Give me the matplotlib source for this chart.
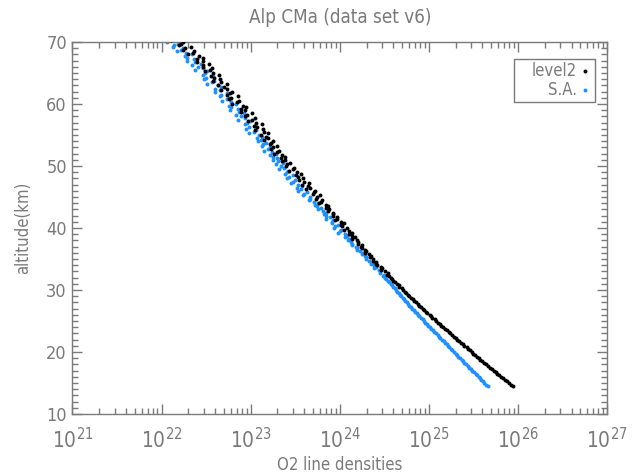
import numpy as np
import matplotlib
matplotlib.use("Agg")
import matplotlib.pyplot as plt
from matplotlib.ticker import LogLocator, MultipleLocator, NullFormatter, FixedLocator
from matplotlib.patches import Rectangle

# tangent altitudes (km), shared by both retrievals
altitude = [
    70.5, 70.25, 70.0, 69.75, 69.5, 69.25, 69.0, 68.75,
    68.5, 68.25, 68.0, 67.75, 67.5, 67.25, 67.0, 66.75,
    66.5, 66.25, 66.0, 65.75, 65.5, 65.25, 65.0, 64.75,
    64.5, 64.25, 64.0, 63.75, 63.5, 63.25, 63.0, 62.75,
    62.5, 62.25, 62.0, 61.75, 61.5, 61.25, 61.0, 60.75,
    60.5, 60.25, 60.0, 59.75, 59.5, 59.25, 59.0, 58.75,
    58.5, 58.25, 58.0, 57.75, 57.5, 57.25, 57.0, 56.75,
    56.5, 56.25, 56.0, 55.75, 55.5, 55.25, 55.0, 54.75,
    54.5, 54.25, 54.0, 53.75, 53.5, 53.25, 53.0, 52.75,
    52.5, 52.25, 52.0, 51.75, 51.5, 51.25, 51.0, 50.75,
    50.5, 50.25, 50.0, 49.75, 49.5, 49.25, 49.0, 48.75,
    48.5, 48.25, 48.0, 47.75, 47.5, 47.25, 47.0, 46.75,
    46.5, 46.25, 46.0, 45.75, 45.5, 45.25, 45.0, 44.75,
    44.5, 44.25, 44.0, 43.75, 43.5, 43.25, 43.0, 42.75,
    42.5, 42.25, 42.0, 41.75, 41.5, 41.25, 41.0, 40.75,
    40.5, 40.25, 40.0, 39.75, 39.5, 39.25, 39.0, 38.75,
    38.5, 38.25, 38.0, 37.75, 37.5, 37.25, 37.0, 36.75,
    36.5, 36.25, 36.0, 35.75, 35.5, 35.25, 35.0, 34.75,
    34.5, 34.25, 34.0, 33.75, 33.5, 33.25, 33.0, 32.75,
    32.5, 32.25, 32.0, 31.75, 31.5, 31.25, 31.0, 30.75,
    30.5, 30.25, 30.0, 29.75, 29.5, 29.25, 29.0, 28.75,
    28.5, 28.25, 28.0, 27.75, 27.5, 27.25, 27.0, 26.75,
    26.5, 26.25, 26.0, 25.75, 25.5, 25.25, 25.0, 24.75,
    24.5, 24.25, 24.0, 23.75, 23.5, 23.25, 23.0, 22.75,
    22.5, 22.25, 22.0, 21.75, 21.5, 21.25, 21.0, 20.75,
    20.5, 20.25, 20.0, 19.75, 19.5, 19.25, 19.0, 18.75,
    18.5, 18.25, 18.0, 17.75, 17.5, 17.25, 17.0, 16.75,
    16.5, 16.25, 16.0, 15.75, 15.5, 15.25, 15.0, 14.75,
    14.5,
]

# log10 of O2 line density, level2 product
level2_log = [
    22.18, 22.11, 22.24, 22.22, 22.20, 22.33, 22.26, 22.24,
    22.36, 22.35, 22.30, 22.42, 22.46, 22.40, 22.46, 22.40,
    22.53, 22.47, 22.46, 22.57, 22.54, 22.49, 22.58, 22.65,
    22.56, 22.59, 22.66, 22.58, 22.67, 22.73, 22.63, 22.70,
    22.74, 22.67, 22.79, 22.77, 22.74, 22.86, 22.78, 22.76,
    22.87, 22.85, 22.79, 22.91, 22.95, 22.89, 22.94, 22.89,
    23.01, 22.96, 22.94, 23.05, 23.02, 22.97, 23.06, 23.13,
    23.04, 23.07, 23.14, 23.05, 23.15, 23.20, 23.12, 23.17,
    23.20, 23.15, 23.25, 23.23, 23.22, 23.30, 23.25, 23.23,
    23.32, 23.30, 23.26, 23.35, 23.39, 23.34, 23.38, 23.35,
    23.44, 23.41, 23.40, 23.49, 23.47, 23.43, 23.52, 23.56,
    23.51, 23.53, 23.59, 23.54, 23.60, 23.66, 23.58, 23.64,
    23.67, 23.62, 23.72, 23.71, 23.70, 23.78, 23.74, 23.73,
    23.80, 23.79, 23.77, 23.85, 23.87, 23.85, 23.88, 23.87,
    23.93, 23.92, 23.92, 23.97, 23.97, 23.95, 24.01, 24.05,
    24.01, 24.03, 24.08, 24.05, 24.10, 24.14, 24.10, 24.14,
    24.17, 24.14, 24.19, 24.20, 24.20, 24.25, 24.24, 24.25,
    24.28, 24.29, 24.28, 24.33, 24.35, 24.34, 24.37, 24.37,
    24.41, 24.41, 24.42, 24.46, 24.47, 24.46, 24.51, 24.54,
    24.53, 24.55, 24.57, 24.59, 24.60, 24.62, 24.645, 24.66,
    24.67, 24.695, 24.71, 24.73, 24.74, 24.77, 24.78, 24.80,
    24.825, 24.83, 24.855, 24.88, 24.89, 24.91, 24.935, 24.95,
    24.965, 24.985, 25.01, 25.025, 25.04, 25.065, 25.08, 25.10,
    25.125, 25.14, 25.16, 25.18, 25.20, 25.225, 25.24, 25.26,
    25.28, 25.305, 25.32, 25.34, 25.36, 25.38, 25.40, 25.425,
    25.44, 25.46, 25.48, 25.50, 25.52, 25.545, 25.56, 25.58,
    25.60, 25.625, 25.645, 25.665, 25.685, 25.71, 25.73, 25.75,
    25.77, 25.79, 25.81, 25.83, 25.85, 25.875, 25.895, 25.92,
    25.94,
]

# log10 of O2 line density, S.A. retrieval
sa_log = [
    22.05, 22.11, 22.06, 22.19, 22.14, 22.13, 22.24, 22.22,
    22.17, 22.27, 22.34, 22.26, 22.29, 22.36, 22.28, 22.38,
    22.44, 22.34, 22.41, 22.46, 22.38, 22.51, 22.49, 22.46,
    22.58, 22.50, 22.48, 22.59, 22.57, 22.51, 22.63, 22.67,
    22.60, 22.66, 22.60, 22.73, 22.67, 22.66, 22.76, 22.74,
    22.68, 22.78, 22.84, 22.76, 22.78, 22.86, 22.77, 22.87,
    22.92, 22.83, 22.89, 22.94, 22.86, 22.99, 22.96, 22.94,
    23.05, 22.98, 22.95, 23.06, 23.04, 22.98, 23.09, 23.13,
    23.07, 23.12, 23.08, 23.17, 23.14, 23.13, 23.22, 23.20,
    23.15, 23.24, 23.28, 23.22, 23.25, 23.30, 23.25, 23.31,
    23.36, 23.29, 23.34, 23.37, 23.32, 23.42, 23.41, 23.39,
    23.47, 23.43, 23.41, 23.50, 23.48, 23.45, 23.53, 23.58,
    23.52, 23.57, 23.53, 23.63, 23.60, 23.59, 23.67, 23.67,
    23.66, 23.71, 23.76, 23.72, 23.74, 23.79, 23.76, 23.81,
    23.85, 23.82, 23.85, 23.89, 23.85, 23.92, 23.91, 23.91,
    23.98, 23.95, 23.94, 24.01, 24.00, 23.98, 24.06, 24.08,
    24.06, 24.10, 24.09, 24.13, 24.14, 24.14, 24.18, 24.19,
    24.19, 24.23, 24.26, 24.25, 24.28, 24.30, 24.30, 24.33,
    24.37, 24.35, 24.38, 24.41, 24.39, 24.44, 24.45, 24.45,
    24.50, 24.49, 24.51, 24.525, 24.54, 24.555, 24.57, 24.585,
    24.60, 24.615, 24.63, 24.645, 24.66, 24.675, 24.69, 24.705,
    24.72, 24.735, 24.75, 24.765, 24.78, 24.80, 24.815, 24.83,
    24.85, 24.865, 24.88, 24.895, 24.91, 24.93, 24.945, 24.96,
    24.98, 24.995, 25.01, 25.03, 25.045, 25.06, 25.08, 25.10,
    25.115, 25.13, 25.15, 25.165, 25.18, 25.20, 25.215, 25.23,
    25.25, 25.265, 25.28, 25.30, 25.315, 25.33, 25.35, 25.37,
    25.385, 25.40, 25.42, 25.44, 25.455, 25.47, 25.49, 25.51,
    25.525, 25.54, 25.56, 25.575, 25.59, 25.61, 25.625, 25.64,
    25.66,
]

x_ticks = [1e21, 1e22, 1e23, 1e24, 1e25, 1e26, 1e27]
x_ticklabels = ["$10^{21}$", "$10^{22}$", "$10^{23}$", "$10^{24}$",
                "$10^{25}$", "$10^{26}$", "$10^{27}$"]
y_ticks = [10, 20, 30, 40, 50, 60, 70]

GREY = "#7a7a7a"
BLUE = "#1e90ff"
DOT = 8

plt.rcParams['font.family'] = ['DejaVu Sans']
plt.rcParams['font.stretch'] = 'condensed'

fig = plt.figure(figsize=(6.32, 4.73), dpi=100)
ax = fig.add_axes([0.1147, 0.1247, 0.8457, 0.7865])

ax.scatter(10 ** np.array(level2_log), altitude, s=DOT, marker='o', color='black', linewidths=0, zorder=3)
ax.scatter(10 ** np.array(sa_log), altitude, s=DOT, marker='o', color=BLUE, linewidths=0, zorder=2)

ax.set_xscale('log')
ax.set_xlim(1e21, 1e27)
ax.set_ylim(10, 70)

ax.xaxis.set_major_locator(FixedLocator(x_ticks))
ax.set_xticklabels(x_ticklabels)
ax.xaxis.set_minor_locator(LogLocator(base=10, subs=np.arange(2, 10), numticks=20))
ax.xaxis.set_minor_formatter(NullFormatter())
ax.set_yticks(y_ticks)
ax.yaxis.set_minor_locator(MultipleLocator(1))

ax.tick_params(which='both', direction='in', top=True, right=True, colors=GREY,
               labelcolor=GREY, width=1)
ax.tick_params(which='major', length=7)
ax.tick_params(which='minor', length=4)
ax.tick_params(axis='y', which='major', labelsize=13, pad=4)
ax.tick_params(axis='x', which='major', labelsize=15, pad=9)
for sp in ax.spines.values():
    sp.set_color(GREY)
    sp.set_linewidth(1)

ax.set_title("Alp CMa (data set v6)", color=GREY, fontsize=13.5, pad=14)
ax.set_xlabel("O2 line densities", color=GREY, fontsize=12, labelpad=3)
ax.set_ylabel("altitude(km)", color=GREY, fontsize=12, labelpad=10)

# legend box, drawn by hand to keep the right-aligned labels
ax.add_patch(Rectangle((0.826, 0.840), 0.152, 0.115, transform=ax.transAxes,
                       fill=False, edgecolor=GREY, linewidth=1, zorder=5))
ax.text(0.944, 0.921, "level2", transform=ax.transAxes, ha='right', va='center',
        color=GREY, fontsize=12)
ax.text(0.944, 0.872, "S.A.", transform=ax.transAxes, ha='right', va='center',
        color=GREY, fontsize=12)
ax.scatter([0.958], [0.921], s=DOT, marker='o', color='black', linewidths=0, transform=ax.transAxes)
ax.scatter([0.958], [0.872], s=DOT, marker='o', color=BLUE, linewidths=0, transform=ax.transAxes)

fig.savefig("out.png", dpi=100)
